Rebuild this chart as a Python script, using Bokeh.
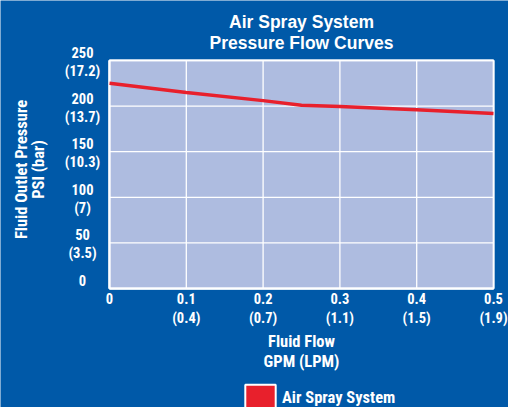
import math
from bokeh.plotting import figure
from bokeh.models import (Legend, LegendItem, Range1d, Label, LabelSet,
                          ColumnDataSource)
from bokeh.core.properties import value
from bokeh.embed import file_html
from bokeh.resources import INLINE

# ---- data ----
flow_gpm = [0.0, 0.1, 0.2, 0.25, 0.3, 0.4, 0.5]
pressure_psi = [225, 215, 206, 201, 199.5, 196, 192]

X_MIN, X_MAX = 0.0, 0.5          # axis domain (GPM)
Y_MIN, Y_MAX = 0, 250            # axis domain (PSI)
x_ticks = [0, 0.1, 0.2, 0.3, 0.4, 0.5]
x_tick_gpm = ["0", "0.1", "0.2", "0.3", "0.4", "0.5"]
x_tick_lpm = ["", "(0.4)", "(0.7)", "(1.1)", "(1.5)", "(1.9)"]
y_ticks = [0, 50, 100, 150, 200, 250]
y_tick_psi = ["0", "50", "100", "150", "200", "250"]
y_tick_bar = ["", "(3.5)", "(7)", "(10.3)", "(13.7)", "(17.2)"]

series_name = "Air Spray System"
title_lines = ["Air Spray System", "Pressure Flow Curves"]
x_label_lines = ["Fluid Flow", "GPM (LPM)"]
y_label_lines = ["Fluid Outlet Pressure", "PSI (bar)"]

# ---- layout / style ----
W, H = 508, 407
AREA_LEFT, AREA_RIGHT, AREA_TOP, AREA_BOTTOM = 109, 493, 60, 288   # px
BLUE = "#0059A8"
PLOT_BG = "#AEBCE0"
RED = "#E8202C"
COND = "'Roboto Condensed', Roboto, sans-serif"
TITLE_FONT = "'Liberation Sans', Arial, sans-serif"

kx = (AREA_RIGHT - AREA_LEFT) / (X_MAX - X_MIN)
ky = (AREA_BOTTOM - AREA_TOP) / (Y_MAX - Y_MIN)
x_range = Range1d(X_MIN - AREA_LEFT / kx, X_MAX + (W - AREA_RIGHT) / kx)
y_range = Range1d(Y_MIN - (H - AREA_BOTTOM) / ky, Y_MAX + AREA_TOP / ky)

p = figure(frame_width=W, frame_height=H, min_border=0, title=None,
           x_range=x_range, y_range=y_range,
           x_axis_location=None, y_axis_location=None,
           output_backend="svg", toolbar_location=None,
           background_fill_color=BLUE, border_fill_color=BLUE)
p.outline_line_color = None
p.grid.visible = False

# legend swatch renderer (hidden beneath the plot area)
swatch = p.quad(left=[X_MIN], right=[X_MAX], bottom=[Y_MIN], top=[Y_MAX],
                fill_color=RED, line_color="white", line_width=2)
# plot area
p.quad(left=[X_MIN], right=[X_MAX], bottom=[Y_MIN], top=[Y_MAX],
       fill_color=PLOT_BG, line_color="white", line_width=1.5)
# grid lines
p.segment(x0=x_ticks, x1=x_ticks, y0=[Y_MIN] * len(x_ticks),
          y1=[Y_MAX] * len(x_ticks), line_color="white", line_width=1.3)
p.segment(x0=[X_MIN] * len(y_ticks), x1=[X_MAX] * len(y_ticks),
          y0=y_ticks, y1=y_ticks, line_color="white", line_width=1.3)
# axis lines (left / bottom, slightly heavier)
p.segment(x0=[X_MIN, X_MIN], x1=[X_MIN, X_MAX], y0=[Y_MIN, Y_MIN],
          y1=[Y_MAX, Y_MIN], line_color="white", line_width=2)

# curve
p.line(flow_gpm, pressure_psi, line_color=RED, line_width=3.5)

# ---- tick labels ----
def tick_set(src, tcol, xo, yo):
    return LabelSet(x="x", y="y", text=tcol, source=src,
                    x_offset=xo, y_offset=yo,
                    text_align="center", text_baseline="middle",
                    text_color="white", text_font=value(COND),
                    text_font_size=value("14.5px"), text_font_style="bold")

ysrc = ColumnDataSource(dict(x=[X_MIN] * len(y_ticks), y=y_ticks,
                             psi=y_tick_psi, bar=y_tick_bar))
xsrc = ColumnDataSource(dict(x=x_ticks, y=[Y_MIN] * len(x_ticks),
                             gpm=x_tick_gpm, lpm=x_tick_lpm))
p.add_layout(tick_set(ysrc, "psi", -27, 8))
p.add_layout(tick_set(ysrc, "bar", -27, -11))
p.add_layout(tick_set(xsrc, "gpm", 0, -9.5))
p.add_layout(tick_set(xsrc, "lpm", 0, -30))

# ---- titles / axis labels ----
def text_label(txt, x, y, xo, yo, size, font=COND, angle=0.0):
    return Label(text=txt, x=x, y=y, x_offset=xo, y_offset=yo, angle=angle,
                 text_align="center", text_baseline="middle",
                 text_color="white", text_font=font,
                 text_font_size=size, text_font_style="bold")

xc = (X_MIN + X_MAX) / 2
yc = (Y_MIN + Y_MAX) / 2
p.add_layout(text_label(title_lines[0], xc, Y_MAX, 0, 39, "17.5px", TITLE_FONT))
p.add_layout(text_label(title_lines[1], xc, Y_MAX, 0, 17.5, "17.5px", TITLE_FONT))
p.add_layout(text_label(x_label_lines[0], xc, Y_MIN, 0, -53, "16.5px"))
p.add_layout(text_label(x_label_lines[1], xc, Y_MIN, 0, -73, "16.5px"))
p.add_layout(text_label(y_label_lines[0], X_MIN, yc, -88, 5, "16.5px",
                        angle=math.pi / 2))
p.add_layout(text_label(y_label_lines[1], X_MIN, yc, -71.5, 5, "16.5px",
                        angle=math.pi / 2))

# ---- legend ----
legend = Legend(items=[LegendItem(label=series_name, renderers=[swatch])],
                location=(241, -6), glyph_width=38, glyph_height=32,
                label_standoff=3, padding=0, margin=0,
                border_line_color=None, background_fill_alpha=0,
                label_text_color="white", label_text_font=COND,
                label_text_font_size="16.5px", label_text_font_style="bold")
p.add_layout(legend, "center")

open("out.html", "w").write(file_html(p, INLINE))
